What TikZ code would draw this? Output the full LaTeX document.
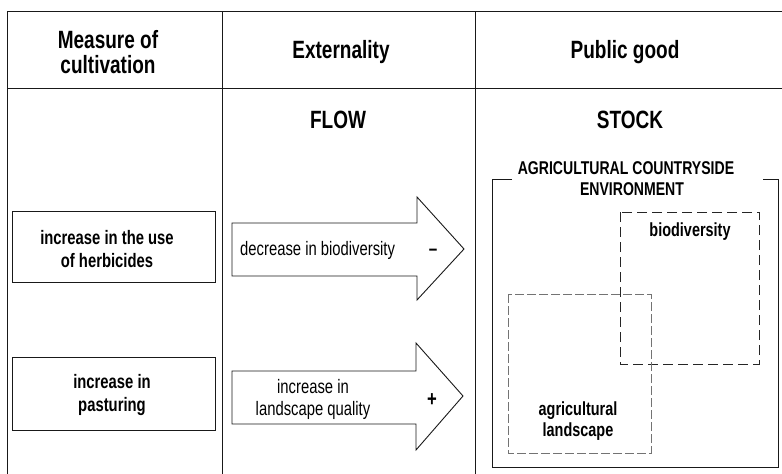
\documentclass[tikz,border=0pt]{standalone}
\usepackage{fontspec}
\setmainfont{Liberation Sans}[FakeStretch=0.76]
\begin{document}
\begin{tikzpicture}[x=1pt,y=-1pt,
  line/.style={draw=black!90,line width=1pt},
  head/.style={font=\bfseries\fontsize{25}{25}\selectfont,align=center},
  boxtext/.style={font=\bfseries\fontsize{19.5}{23}\selectfont,align=center},
  arrtext/.style={font=\fontsize{19.5}{22}\selectfont,align=center},
  bigarrow/.style={draw=black!90,line width=0.9pt,fill=white}]
\useasboundingbox (0,0) rectangle (782,474);
% table lines
\draw[line] (7,11) -- (782,11);
\draw[line] (7,88) -- (782,88);
\draw[line] (7,11) -- (7,474);
\draw[line] (222,11) -- (222,474);
\draw[line] (475,11) -- (475,474);
% headers
\node[head] (h1) at (108,52) {Measure of\\cultivation};
\node[head] (h2) at (341,52) {Externality};
\node[head] (h3) at (625,52) {Public good};
\node[head] (flow) at (338,120) {FLOW};
\node[head] (stock) at (630,120) {STOCK};
% measure boxes
\draw[draw=black!90,line width=0.9pt] (12,211) rectangle (215,282);
\node[boxtext] (m1) at (107,249) {increase in the use\\of herbicides};
\draw[draw=black!90,line width=0.9pt] (12,357) rectangle (215,430);
\node[boxtext] (m2) at (112,395) {increase in\\pasturing};
% arrows
\draw[bigarrow] (232,223) -- (417,223) -- (417,197) -- (464,249) -- (417,300) -- (417,276) -- (232,276) -- cycle;
\draw[bigarrow] (232,371) -- (416,371) -- (416,343) -- (463,396) -- (416,450) -- (416,424) -- (232,424) -- cycle;
\node[arrtext,anchor=west,inner sep=0pt] (e1) at (240,250) {decrease in biodiversity};
\node[font=\bfseries\fontsize{20}{22}\selectfont] (minus) at (433,252) {--};
\node[arrtext] (e2) at (313,399) {increase in\\landscape quality};
\node[font=\bfseries\fontsize{22}{22}\selectfont] (plus) at (432,400) {+};
% environment
\draw[line] (512,179) -- (492,179) -- (492,467) -- (778,467) -- (778,179) -- (763,179);
\node[font=\bfseries\fontsize{18.5}{21}\selectfont,align=center] (env) at (626,178.5) {AGRICULTURAL COUNTRYSIDE\\\hspace*{12pt}ENVIRONMENT};
\draw[draw=black!85,line width=1pt,dash pattern=on 10pt off 5pt] (620,212) rectangle (759,364);
\node[font=\bfseries\fontsize{19}{22}\selectfont] (bio) at (690,232) {biodiversity};
\draw[draw=black!55,line width=1pt,dash pattern=on 9pt off 3pt] (508,294) rectangle (651,453);
\node[font=\bfseries\fontsize{19}{21.5}\selectfont,align=center] (agr) at (578,421) {agricultural\\landscape};
\end{tikzpicture}
\end{document}
